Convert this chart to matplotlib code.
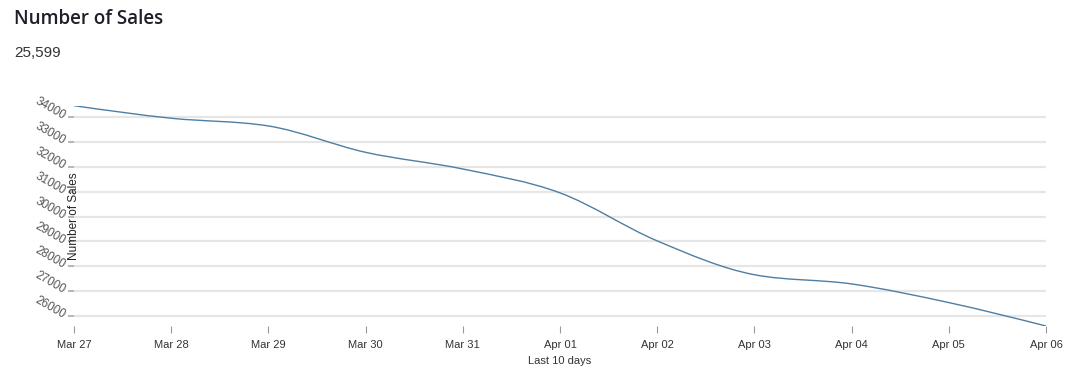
import matplotlib.pyplot as plt
import numpy as np
from matplotlib.path import Path
from matplotlib.patches import PathPatch

# data
days = ["Mar 27", "Mar 28", "Mar 29", "Mar 30", "Mar 31", "Apr 01",
        "Apr 02", "Apr 03", "Apr 04", "Apr 05", "Apr 06"]
sales = [34454, 33950, 33640, 32580, 31910, 30950,
         29020, 27660, 27290, 26540, 25599]
y_ticks = [26000, 27000, 28000, 29000, 30000, 31000, 32000, 33000, 34000]
total = "25,599"

plt.rcParams['font.family'] = ['Liberation Sans', 'DejaVu Sans']

W, H = 1087, 368
fig = plt.figure(figsize=(W / 100, H / 100), dpi=100)
ax = fig.add_axes([74 / W, 1 - 326 / H, 972 / W, (326 - 105.7) / H])

x = np.arange(len(sales), dtype=float)
y = np.array(sales, dtype=float)


# monotone cubic bezier path through the points (like d3 curveMonotoneX)
def monotone_path(x, y):
    n = len(x)
    h = np.diff(x)
    s = np.diff(y) / h
    t = np.zeros(n)
    for i in range(1, n - 1):
        p = (s[i - 1] * h[i] + s[i] * h[i - 1]) / (h[i - 1] + h[i])
        t[i] = (np.sign(s[i - 1]) + np.sign(s[i])) * min(abs(s[i - 1]), abs(s[i]), 0.5 * abs(p))
    t[0] = (3 * s[0] - t[1]) / 2
    t[-1] = (3 * s[-1] - t[-2]) / 2
    verts = [(x[0], y[0])]
    codes = [Path.MOVETO]
    for i in range(n - 1):
        dx = (x[i + 1] - x[i]) / 3
        verts += [(x[i] + dx, y[i] + dx * t[i]),
                  (x[i + 1] - dx, y[i + 1] - dx * t[i + 1]),
                  (x[i + 1], y[i + 1])]
        codes += [Path.CURVE4] * 3
    return Path(verts, codes)


ax.add_patch(PathPatch(monotone_path(x, y), facecolor='none',
                       edgecolor='#4f7ea3', linewidth=1.0))

ax.set_xlim(0, len(days) - 1)
ax.set_ylim(min(sales), max(sales))
ax.set_xticks(x)
ax.set_xticklabels(days)
ax.set_yticks(y_ticks)
ax.set_yticklabels([str(v) for v in y_ticks])

for sp in ax.spines.values():
    sp.set_visible(False)

ax.grid(axis='y', color='#e6e6e6', linewidth=1.6)
ax.set_axisbelow(True)

ax.tick_params(axis='x', length=5, width=0.8, color='#999999', pad=5,
               labelsize=8, labelcolor='#333333')
ax.tick_params(axis='y', length=4, width=1.2, color='#aaaaaa', pad=3,
               labelsize=8.5, labelcolor='#555555')
for lab in ax.get_yticklabels():
    lab.set_rotation(-30)
    lab.set_rotation_mode('anchor')
    lab.set_ha('right')
    lab.set_va('center')

fig.text(74 / W, 1 - 216 / H, "Number of Sales", rotation=90,
         ha='center', va='center', fontsize=8.5, color='#222222')
fig.text(560 / W, 1 - 361 / H, "Last 10 days", ha='center', va='center',
         fontsize=8, color='#333333')

fig.text(14 / W, 1 - 19 / H, "Number of Sales", ha='left', va='center',
         fontsize=13.5, fontweight='semibold', color='#1f1f2b',
         family=['Open Sans', 'DejaVu Sans'])
fig.text(14 / W, 1 - 53 / H, total, ha='left', va='center',
         fontsize=11, color='#333333')

fig.savefig("out.png", dpi=100)
